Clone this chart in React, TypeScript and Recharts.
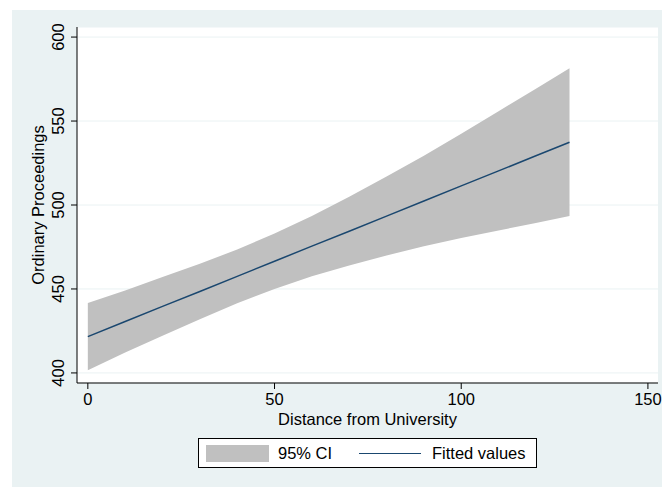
import React from "react";
import {
  ComposedChart,
  Area,
  Line,
  XAxis,
  YAxis,
  CartesianGrid,
} from "recharts";

// distance points
const distance = [0, 10, 20, 30, 40, 50, 60, 70, 80, 90, 100, 110, 120, 129];
const fitted = [421.6, 430.6, 439.6, 448.5, 457.5, 466.5, 475.5, 484.4, 493.4, 502.4, 511.4, 520.3, 529.3, 537.4];
const ciLow = [401.6, 412.1, 422.1, 432.0, 441.5, 450.0, 457.5, 463.9, 469.9, 475.4, 480.4, 484.8, 489.3, 493.4];
const ciHigh = [441.6, 449.1, 457.1, 465.0, 473.5, 483.0, 493.5, 504.9, 516.9, 529.4, 542.4, 555.8, 569.3, 581.4];

const xTicks = [0, 50, 100, 150];
const yTicks = [400, 450, 500, 550, 600];

const data = distance.map((d, i) => ({
  x: d,
  band: [ciLow[i], ciHigh[i]],
  fit: fitted[i],
}));

const font = "'Liberation Sans', Arial, sans-serif";
const fs = 16.5;
const navy = "#1a476f";
const bg = "#eaf2f3";

const YTick = (props: any) => {
  const { x, y, payload } = props;
  return (
    <text
      x={x - 5}
      y={y}
      transform={`rotate(-90, ${x - 5}, ${y})`}
      textAnchor="middle"
      fontSize={fs}
      fontFamily={font}
      fill="#000"
    >
      {payload.value}
    </text>
  );
};

export default function App() {
  return (
    <div style={{ position: "absolute", left: 0, top: 0, width: 662, height: 487 }}>
      <div
        style={{ position: "absolute", left: 12, top: 10, width: 650, height: 477, background: bg }}
      />
      <div style={{ position: "absolute", left: 0, top: 0 }}>
        <ComposedChart
          width={662}
          height={487}
          data={data}
          margin={{ top: 27, right: 4, bottom: 59, left: 12 }}
        >
          <CartesianGrid vertical={false} stroke={bg} fill="#fff" />
          <XAxis
            dataKey="x"
            type="number"
            domain={[-2.9, 152.7]}
            ticks={xTicks}
            height={45}
            tickSize={6}
            tickMargin={4}
            stroke="#000"
            tick={{ fill: "#000", fontSize: fs, fontFamily: font }}
            label={{
              value: "Distance from University",
              position: "insideBottom",
              offset: 3,
              fill: "#000",
              fontSize: fs,
              fontFamily: font,
            }}
          />
          <YAxis
            type="number"
            domain={[394, 606]}
            ticks={yTicks}
            width={65}
            tickSize={6}
            tickMargin={2}
            stroke="#000"
            tick={<YTick />}
            label={{
              value: "Ordinary Proceedings",
              angle: -90,
              position: "center",
              dx: -6,
              fill: "#000",
              fontSize: fs,
              fontFamily: font,
            }}
          />
          <Area
            dataKey="band"
            type="linear"
            fill="#c0c0c0"
            fillOpacity={1}
            stroke="none"
            isAnimationActive={false}
          />
          <Line
            dataKey="fit"
            type="linear"
            stroke={navy}
            strokeWidth={1.5}
            dot={false}
            isAnimationActive={false}
          />
        </ComposedChart>
      </div>
      <div
        style={{
          position: "absolute",
          left: 198,
          top: 438,
          width: 337,
          height: 28,
          background: "#fff",
          border: "1px solid #000",
          fontFamily: font,
          fontSize: fs,
          color: "#000",
        }}
      >
        <div style={{ position: "absolute", left: 7, top: 6, width: 63, height: 17, background: "#c0c0c0" }} />
        <span style={{ position: "absolute", left: 79, top: 4, lineHeight: "20px" }}>95% CI</span>
        <div style={{ position: "absolute", left: 160, top: 14, width: 62, height: 0, borderTop: `1.5px solid ${navy}` }} />
        <span style={{ position: "absolute", left: 233, top: 4, lineHeight: "20px" }}>Fitted values</span>
      </div>
    </div>
  );
}
